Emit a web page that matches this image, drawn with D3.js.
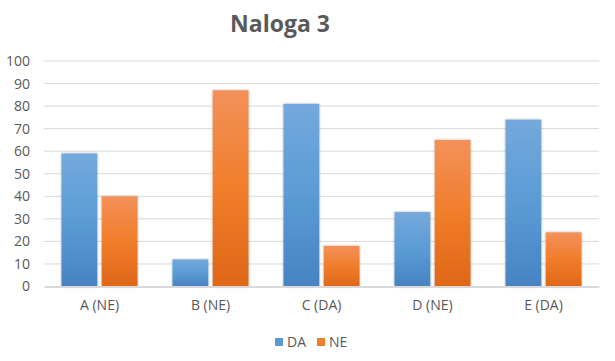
<!DOCTYPE html>
<html>
<head>
<meta charset="utf-8">
<script src="https://cdn.jsdelivr.net/npm/d3@7"></script>
<style>
  body { margin: 0; background: #fff; }
  text { font-family: "Open Sans", "Liberation Sans", sans-serif; fill: #595959; }
</style>
</head>
<body>
<div id="chart-area"></div>
<script>
// data
const categories = ["A (NE)", "B (NE)", "C (DA)", "D (NE)", "E (DA)"]
const seriesNames = ["DA", "NE"]
const daValues = [59, 12, 81, 33, 74]
const neValues = [40, 87, 18, 65, 24]
const yTicks = [0, 10, 20, 30, 40, 50, 60, 70, 80, 90, 100]

const chartAreaWidth = 615
const chartAreaHeight = 361
const margin = {top: 61, right: 16, bottom: 74.5, left: 44}
const width = chartAreaWidth - margin.left - margin.right
const height = chartAreaHeight - margin.top - margin.bottom

const svg = d3.select("#chart-area").append("svg")
    .attr("width", chartAreaWidth)
    .attr("height", chartAreaHeight)

// gradients + soft shadow like the office style
const defs = svg.append("defs")
const grads = {
    DA: ["#74a9dc", "#5b9bd5", "#4683c3"],
    NE: ["#f3915a", "#f07d2a", "#df6718"]
}
Object.entries(grads).forEach(([k, c]) => {
    const lg = defs.append("linearGradient").attr("id", "grad-" + k)
        .attr("x1", 0).attr("y1", 0).attr("x2", 0).attr("y2", 1)
    lg.append("stop").attr("offset", "0%").attr("stop-color", c[0])
    lg.append("stop").attr("offset", "50%").attr("stop-color", c[1])
    lg.append("stop").attr("offset", "100%").attr("stop-color", c[2])
})
const shadow = defs.append("filter").attr("id", "shadow")
    .attr("x", "-20%").attr("y", "-5%").attr("width", "140%").attr("height", "110%")
shadow.append("feDropShadow").attr("dx", 0).attr("dy", 0).attr("stdDeviation", 1.2)
    .attr("flood-color", "#000").attr("flood-opacity", 0.35)

const g = svg.append("g")
    .attr("transform", `translate(${margin.left}, ${margin.top})`)

const x = d3.scaleBand().domain(categories).range([0, width]).paddingInner(0).paddingOuter(0)
const inner = d3.scaleBand().domain(seriesNames).range([17.5, x.bandwidth() - 17.5]).paddingInner(0.11)
const y = d3.scaleLinear().domain([0, 100]).range([height, 0])

// gridlines
g.append("g")
    .selectAll("line")
    .data(yTicks.filter(d => d > 0))
    .join("line")
    .attr("x1", 0).attr("x2", width)
    .attr("y1", d => y(d)).attr("y2", d => y(d))
    .attr("stroke", "#d9d9d9").attr("stroke-width", 1)

// y axis labels
const yAxis = d3.axisLeft(y).tickValues(yTicks).tickSize(0).tickPadding(14)
g.append("g")
    .call(yAxis)
    .call(a => a.select(".domain").remove())
    .selectAll("text")
    .attr("font-size", "14px")

// bars
const rows = categories.map((c, i) => ({cat: c, vals: [daValues[i], neValues[i]]}))
const groups = g.append("g").selectAll("g")
    .data(rows)
    .join("g")
    .attr("transform", d => `translate(${x(d.cat)},0)`)

groups.selectAll("rect")
    .data(d => seriesNames.map((s, j) => ({s: s, v: d.vals[j]})))
    .join("rect")
    .attr("x", d => inner(d.s))
    .attr("width", inner.bandwidth())
    .attr("y", d => y(d.v))
    .attr("height", d => height - y(d.v))
    .attr("fill", d => `url(#grad-${d.s})`)
    .attr("filter", "url(#shadow)")

// x axis
const xAxis = d3.axisBottom(x).tickSize(0).tickPadding(14)
g.append("g")
    .attr("transform", `translate(0,${height})`)
    .call(xAxis)
    .call(a => a.select(".domain").attr("stroke", "#d9d9d9").attr("stroke-width", 2))
    .selectAll("text")
    .attr("font-size", "14px")

// title
svg.append("text")
    .attr("x", 280)
    .attr("y", 32)
    .attr("text-anchor", "middle")
    .attr("font-size", "23px")
    .attr("font-weight", "bold")
    .text("Naloga 3")

// legend
const legend = svg.append("g").attr("transform", "translate(275, 342)")
const items = legend.selectAll("g")
    .data(seriesNames)
    .join("g")
    .attr("transform", (d, i) => `translate(${i * 42},0)`)
items.append("rect")
    .attr("x", 0).attr("y", -4)
    .attr("width", 8).attr("height", 8)
    .attr("fill", d => grads[d][1])
items.append("text")
    .attr("x", 12).attr("y", 0)
    .attr("dy", "0.35em")
    .attr("font-size", "14px")
    .text(d => d)
</script>
</body>
</html>
